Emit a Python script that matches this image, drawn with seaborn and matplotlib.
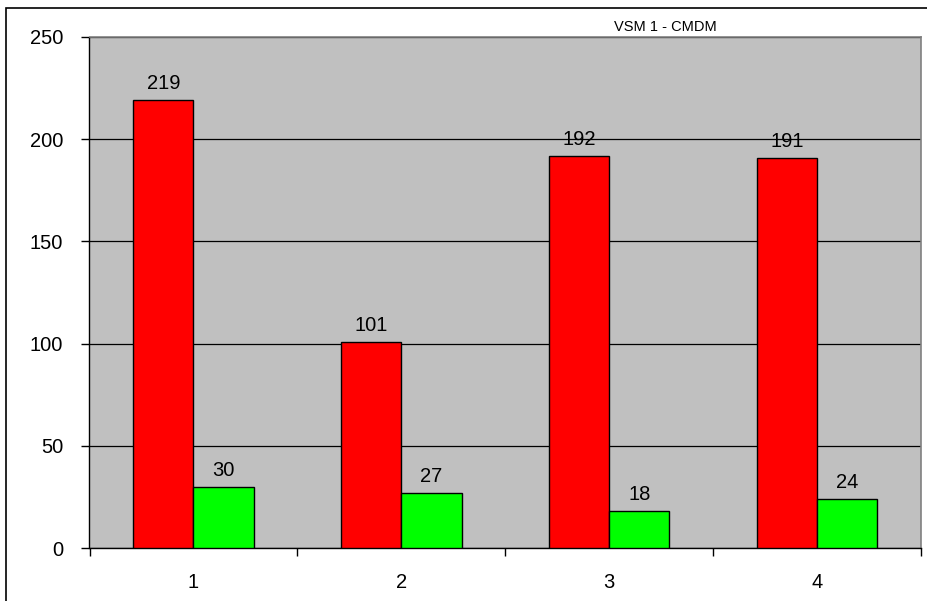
import matplotlib
matplotlib.use("Agg")
import matplotlib.pyplot as plt
import matplotlib.patches as mpatches
import seaborn as sns
import pandas as pd

categories = ["1", "2", "3", "4"]
red_values = [219, 101, 192, 191]
green_values = [30, 27, 18, 24]
series_names = ["A", "B"]
title = "VSM 1 - CMDM"

sns.set_theme(style="white")
plt.rcParams["font.family"] = ["Liberation Sans", "DejaVu Sans"]

df = pd.DataFrame({
    "cat": categories * 2,
    "val": red_values + green_values,
    "series": [series_names[0]] * 4 + [series_names[1]] * 4,
})

fig = plt.figure(figsize=(9.28, 6.01), dpi=100)
ax = fig.add_axes([89.5 / 928, 53 / 601, (921 - 89.5) / 928, (548 - 37) / 601])
ax.set_facecolor("#C0C0C0")

sns.barplot(data=df, x="cat", y="val", hue="series", order=categories,
            palette=["#FF0000", "#00FF00"], width=0.58, dodge=True,
            edgecolor="black", linewidth=1.0, saturation=1, ax=ax, legend=False,
            zorder=3)

for cont in ax.containers:
    ax.bar_label(cont, labels=[str(int(v)) for v in cont.datavalues],
                 padding=5, fontsize=14.5, color="black")

ax.set_xlim(-0.5, 3.5)
ax.set_ylim(0, 250)
ax.set_yticks([0, 50, 100, 150, 200, 250])
ax.yaxis.grid(True, color="black", linewidth=0.9, zorder=1)
ax.set_axisbelow(True)
ax.set_xlabel("")
ax.set_ylabel("")

ax.set_xticks([0, 1, 2, 3])
ax.set_xticklabels(categories)
ax.set_xticks([-0.5, 0.5, 1.5, 2.5, 3.5], minor=True)
ax.tick_params(axis="x", which="major", length=0, pad=18, labelsize=14.5, colors="black")
ax.tick_params(axis="x", which="minor", length=6, width=1, direction="out", color="black", bottom=True)
ax.tick_params(axis="y", length=6, width=1, direction="out", pad=13, labelsize=14.5, left=True, colors="black")

for s in ["top", "right"]:
    ax.spines[s].set_color("#808080")
    ax.spines[s].set_linewidth(1.2)
for s in ["left", "bottom"]:
    ax.spines[s].set_color("black")
    ax.spines[s].set_linewidth(1.0)

fig.text(665 / 928, 1 - 27 / 601, title, ha="center", va="center", fontsize=10.5, color="black")

border = mpatches.Rectangle((6 / 928, -0.05), 1.2, 1 - 8 / 601 + 0.05,
                            transform=fig.transFigure, fill=False,
                            edgecolor="black", linewidth=1.2)
fig.patches.append(border)

fig.savefig("out.png", dpi=100)
